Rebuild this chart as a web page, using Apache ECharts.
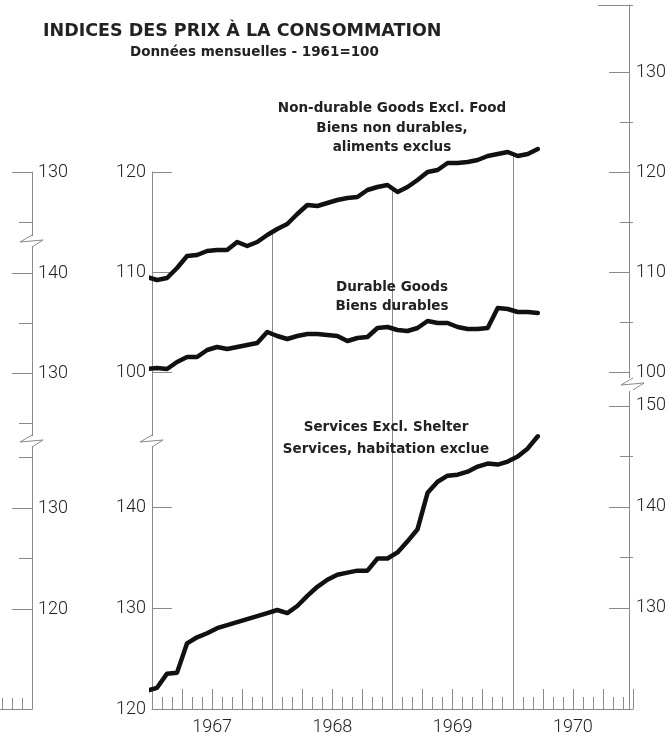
<!DOCTYPE html>
<html><head><meta charset="utf-8">
<script src="https://cdn.jsdelivr.net/npm/echarts@6/dist/echarts.min.js"></script>
<style>html,body{margin:0;padding:0;background:#fff}#c{width:669px;height:736px}</style>
</head><body><div id="c"></div>
<script>
// ---- data (monthly, Dec 1966 .. Mar 1970) ----
const months = ['1966-12','1967-01','1967-02','1967-03','1967-04','1967-05','1967-06','1967-07','1967-08','1967-09','1967-10','1967-11','1967-12',
 '1968-01','1968-02','1968-03','1968-04','1968-05','1968-06','1968-07','1968-08','1968-09','1968-10','1968-11','1968-12',
 '1969-01','1969-02','1969-03','1969-04','1969-05','1969-06','1969-07','1969-08','1969-09','1969-10','1969-11','1969-12',
 '1970-01','1970-02','1970-03'];
const nonDurable = [109.5,109.2,109.4,110.4,111.6,111.7,112.1,112.2,112.2,113.0,112.6,113.0,113.7,114.3,114.8,115.8,116.7,116.6,116.9,117.2,117.4,117.5,118.2,118.5,118.7,118.0,118.5,119.2,120.0,120.2,120.9,120.9,121.0,121.2,121.6,121.8,122.0,121.6,121.8,122.3];
const durable = [100.3,100.4,100.3,101.0,101.5,101.5,102.2,102.5,102.3,102.5,102.7,102.9,104.0,103.6,103.3,103.6,103.8,103.8,103.7,103.6,103.1,103.4,103.5,104.4,104.5,104.2,104.1,104.4,105.1,104.9,104.9,104.5,104.3,104.3,104.4,106.4,106.3,106.0,106.0,105.9];
const services = [121.8,122.1,123.5,123.6,126.5,127.1,127.5,128.0,128.3,128.6,128.9,129.2,129.5,129.8,129.5,130.2,131.2,132.1,132.8,133.3,133.5,133.7,133.7,134.9,134.9,135.5,136.6,137.8,141.4,142.5,143.1,143.2,143.5,144.0,144.3,144.2,144.5,145.0,145.8,147.0];
const yearLabels = ['1967','1968','1969','1970'];
const rightUpperTicks = [100,110,120,130];
const rightUpperMinor = [105,115,125];
const rightLowerTicks = [130,140,150];
const rightLowerMinor = [135,145];
const leftUpperTicks = [100,110,120];
const leftLowerTicks = [130,140];
const leftLowerLabels = [120,130,140];
const farA = [130], farAMinor = [125];
const farB = [130,140], farBMinor = [125,135];
const farC = [120,130], farCMinor = [125,135];

// ---- style ----
const AX = '#8a8a8a', TXT = '#222', LINE = '#111';
const NUMFONT = 'Roboto';
const chart = echarts.init(document.getElementById('c'), null, {renderer:'canvas'});

const grids = [], xAxes = [], yAxes = [];
function addGrid(r){ grids.push({left:r[0], top:r[1], width:r[2], height:r[3], containLabel:false}); return grids.length-1; }
function hiddenX(g, min, max){ xAxes.push({gridIndex:g, type:'value', min, max, show:false, axisLine:{onZero:false}}); return xAxes.length-1; }
function hiddenY(g, min, max){ yAxes.push({gridIndex:g, type:'value', min, max, show:false, axisLine:{onZero:false}}); return yAxes.length-1; }
// each visible y axis gets its own grid so no axis position gets flipped
function yAx(rect, o){
  const g = addGrid(rect);
  hiddenX(g, 0, 48);
  yAxes.push({
    gridIndex:g, type:'value', position:o.pos, min:o.min, max:o.max,
    axisLine:{show:o.line!==false, onZero:false, lineStyle:{color:AX, width:1}},
    axisTick: o.ticks ? {show:true, inside:true, length:o.len, customValues:o.ticks, lineStyle:{color:AX, width:1}} : {show:false},
    axisLabel: o.labels ? {show:true, customValues:o.labels, margin:o.margin||7, showMinLabel:true, showMaxLabel:true,
      fontFamily:NUMFONT, fontSize:18, fontWeight:300, color:TXT} : {show:false},
    splitLine:{show:false}
  });
  return yAxes.length-1;
}
function xAx(rect, o){
  const g = addGrid(rect);
  hiddenY(g, 0, 1);
  xAxes.push(Object.assign({gridIndex:g, type:'value', position:'bottom', min:o.min, max:o.max,
    axisLine:{show:false, onZero:false}, axisTick:{show:false}, axisLabel:{show:false}, splitLine:{show:false}}, o.extra));
  return xAxes.length-1;
}

// ---- data grids ----
const RECT_U = [152, 5, 481, 386];
const U_MIN = 98.1, U_MAX = 136.7;
const gU = addGrid(RECT_U);
const xU = hiddenX(gU, 0, 48);
const yU = hiddenY(gU, U_MIN, U_MAX);

const RECT_L = [152, 391, 481, 318];
const L_MIN = 120, L_MAX = 151.485;
const gL = addGrid(RECT_L);
const xL = hiddenX(gL, 0, 48);
const yL = hiddenY(gL, L_MIN, L_MAX);

// ---- bottom time axis ----
xAx(RECT_L, {min:0, max:48, extra:{interval:1,
  axisLine:{show:true, onZero:false, lineStyle:{color:AX, width:1}},
  axisTick:{show:true, inside:true, length:12, lineStyle:{color:AX, width:1}}}});
xAx(RECT_L, {min:0, max:48, extra:{interval:3,
  axisTick:{show:true, inside:true, length:20, lineStyle:{color:AX, width:1}}}});
xAx(RECT_L, {min:0, max:48, extra:{interval:12,
  axisLabel:{show:true, customValues:[6,18,30,42], margin:9, fontFamily:NUMFONT, fontSize:18, fontWeight:300, color:TXT,
    formatter:v=>yearLabels[Math.round((v-6)/12)]},
  splitLine:{show:true, showMinLine:false, showMaxLine:false, lineStyle:{color:AX, width:1}}}});

// ---- right axis ----
const RECT_RU = [152, 5, 481, 373];
yAx(RECT_RU, {pos:'right', min:99.4, max:U_MAX, ticks:rightUpperTicks, len:20, labels:rightUpperTicks, margin:7});
yAx(RECT_RU, {pos:'right', min:99.4, max:U_MAX, ticks:rightUpperMinor, len:13, line:false});
yAx(RECT_RU, {pos:'right', min:99.4, max:U_MAX, ticks:[U_MAX], len:35, line:false});
yAx(RECT_L, {pos:'right', min:L_MIN, max:L_MAX, ticks:rightLowerTicks, len:20, labels:rightLowerTicks, margin:7});
yAx(RECT_L, {pos:'right', min:L_MIN, max:L_MAX, ticks:rightLowerMinor, len:13, line:false});
// ---- inner left axis ----
yAx([152, 172, 481, 264], {pos:'left', min:93.6, max:120, ticks:leftUpperTicks, len:20, labels:leftUpperTicks, margin:6});
yAx([152, 446, 481, 263], {pos:'left', min:120, max:146.04, ticks:leftLowerTicks, len:20, labels:leftLowerLabels, margin:6});
// ---- far-left partial scale ----
const RECT_FA = [0, 172, 32, 64], RECT_FB = [0, 246, 32, 190], RECT_FC = [0, 446, 32, 263];
yAx(RECT_FA, {pos:'right', min:123.6, max:130, ticks:farA, len:20, labels:farA, margin:6});
yAx(RECT_FA, {pos:'right', min:123.6, max:130, ticks:farAMinor, len:13, line:false});
yAx(RECT_FB, {pos:'right', min:123.7, max:142.7, ticks:farB, len:20, labels:farB, margin:6});
yAx(RECT_FB, {pos:'right', min:123.7, max:142.7, ticks:farBMinor, len:13, line:false});
yAx(RECT_FC, {pos:'right', min:110.1, max:136.14, ticks:farC, len:20, labels:farC, margin:6});
yAx(RECT_FC, {pos:'right', min:110.1, max:136.14, ticks:farCMinor, len:13, line:false});
xAx(RECT_FC, {min:0, max:3.2, extra:{
  axisLine:{show:true, onZero:false, lineStyle:{color:AX, width:1}},
  axisTick:{show:true, inside:true, length:11, customValues:[0.2,1.2,2.2], lineStyle:{color:AX, width:1}}}});

// year boundary lines in the upper panel: from the top series down
const yearBounds = [12,24,36];
const boundaryLines = yearBounds.map(b => [
  {coord:[b, (nonDurable[b]+nonDurable[b+1])/2]},
  {coord:[b, U_MIN]}
]);

function lineSeries(data, xi, yi, extra){
  return Object.assign({
    type:'line', xAxisIndex:xi, yAxisIndex:yi, symbol:'none', silent:true, clip:true,
    data:data.map((v,i)=>[i-0.5, v]),
    lineStyle:{color:LINE, width:4.5, cap:'round', join:'round'},
    emphasis:{disabled:true}, z:5
  }, extra||{});
}

function zig(a, b){
  return {type:'polyline', silent:true, z:10,
    shape:{points:[[a, b-6],[a-12, b+1],[a+11, b-1],[a, b+6]]},
    style:{stroke:AX, fill:null, lineWidth:1}};
}
function txt(text, x, y, size, align){
  return {type:'text', x, y, silent:true, z:10,
    style:{text, fill:TXT, font:'bold '+size+'px "DejaVu Sans"', align:align||'center', verticalAlign:'middle'}};
}

const option = {
  animation:false,
  grid:grids, xAxis:xAxes, yAxis:yAxes,
  series:[
    lineSeries(nonDurable, xU, yU, {markLine:{silent:true, symbol:['none','none'], label:{show:false},
      lineStyle:{color:AX, width:1, type:'solid'}, emphasis:{disabled:true}, data:boundaryLines, z:1}}),
    lineSeries(durable, xU, yU),
    lineSeries(services, xL, yL)
  ],
  graphic:[
    txt('INDICES DES PRIX À LA CONSOMMATION', 43, 31, 17.5, 'left'),
    txt('Données mensuelles - 1961=100', 130, 52, 13.5, 'left'),
    txt('Non-durable Goods Excl. Food', 392, 108, 13.5),
    txt('Biens non durables,', 392, 128, 13.5),
    txt('aliments exclus', 392, 147, 13.5),
    txt('Durable Goods', 392, 287, 13.5),
    txt('Biens durables', 392, 306, 13.5),
    txt('Services Excl. Shelter', 386, 427, 13.5),
    txt('Services, habitation exclue', 386, 449, 13.5),
    zig(32, 241), zig(32, 441), zig(152, 441), zig(633, 384),
    {type:'rect', silent:true, z:9, shape:{x:27, y:236, width:10, height:10}, style:{fill:'#fff'}},
    {type:'rect', silent:true, z:9, shape:{x:27, y:436, width:10, height:10}, style:{fill:'#fff'}},
    {type:'rect', silent:true, z:9, shape:{x:147, y:436, width:10, height:10}, style:{fill:'#fff'}},
    {type:'rect', silent:true, z:9, shape:{x:628, y:378, width:10, height:13}, style:{fill:'#fff'}}
  ]
};
chart.setOption(option);
</script>
</body></html>
